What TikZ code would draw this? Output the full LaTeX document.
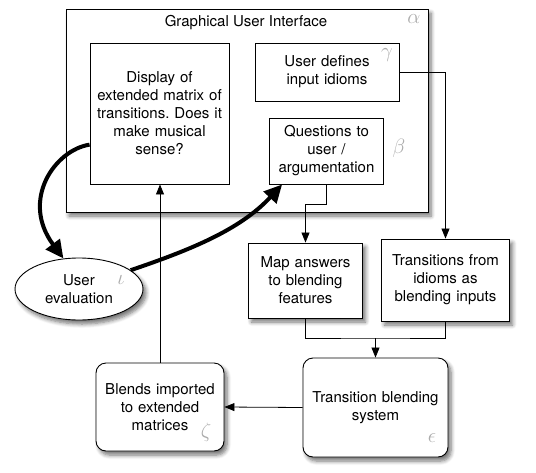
\documentclass[tikz,border=0pt]{standalone}
\usepackage{fontspec}
\setmainfont{TeX Gyre Heros}
\usetikzlibrary{arrows.meta,shapes.geometric,shadows.blur}
\begin{document}
\frenchspacing
\begin{tikzpicture}[x=1pt,y=-1pt,
  font=\fontsize{15}{18}\selectfont,
  box/.style={draw=black,line width=0.9pt,fill=white,align=center,inner sep=2pt},
  shad/.style={blur shadow={shadow xshift=3pt,shadow yshift=-4pt,shadow blur radius=4pt,shadow blur steps=6,shadow opacity=55}},
  rbox/.style={box,rounded corners=10pt},
  thin arrow/.style={line width=0.8pt,-{Triangle[length=10pt,width=8pt]}},
  thin line/.style={line width=0.8pt},
  big arrow/.style={line width=4pt,-{Triangle[length=18pt,width=17pt]}},
  greek/.style={text=gray!65,font=\fontsize{22}{22}\selectfont,inner sep=0pt}]
\useasboundingbox (0,0) rectangle (536,472);
% GUI frame
\node[box,shad,minimum width=362pt,minimum height=203pt] (gui) at (247,110.5) {};
\node[inner sep=0pt] (guit) at (246,23) {Graphical User Interface};
\node[greek] (ga) at (414,19) {$\alpha$};
% inner boxes
\node[box,minimum width=139pt,minimum height=141pt,text width=134pt] (disp) at (159.5,113.5)
  {Display of\\extended matrix of\\transitions. Does it\\make musical\\sense?};
\node[box,minimum width=144pt,minimum height=58pt,text width=136pt] (ud) at (327,72)
  {User defines\\input idioms};
\node[greek] (gg) at (387,55) {$\gamma$};
\node[box,minimum width=113pt,minimum height=66pt,text width=110pt] (q) at (326.5,151)
  {Questions to\\user /\\argumentation};
\node[greek] (gb) at (399,148) {$\beta$};
% lower boxes
\node[box,shad,minimum width=113pt,minimum height=75pt,text width=110pt] (map) at (305.5,280.5)
  {Map answers\\to blending\\features};
\node[box,shad,minimum width=127pt,minimum height=82pt,text width=124pt] (tr) at (445.5,280)
  {Transitions from\\idioms as\\blending inputs};
\node[rbox,shad,minimum width=145pt,minimum height=99pt,text width=140pt] (tbs) at (375.5,407.5)
  {Transition blending\\system};
\node[greek] (ge) at (432,438) {$\epsilon$};
\node[rbox,shad,minimum width=128pt,minimum height=88pt,text width=124pt] (bl) at (160,407)
  {Blends imported\\to extended\\matrices};
\node[greek] (gz) at (206,432) {$\zeta$};
\node[ellipse,box,shad,minimum width=128pt,minimum height=62pt,inner sep=0pt] (ue) at (79,289)
  {User\\evaluation};
\node[greek] (gi) at (121,280) {$\iota$};
% thin connectors
\draw[thin arrow] (ud.east) -| (tr.north);
\draw[thin arrow] (q.south) -- (q.south |- 0,204) -| (map.north);
\coordinate (j) at (tbs.north |- 0,338);
\draw[thin line] (map.south) |- (j) -| (tr.south);
\draw[thin arrow] (j) -- (tbs.north);
\draw[thin arrow] (tbs.west) -- (bl.east);
\draw[thin arrow] (bl.north) -- (bl.north |- disp.south);
% thick curved arrows
\draw[big arrow] (disp.204) .. controls (55,150) and (20,200) .. (ue.117);
\draw[big arrow] (ue.20) .. controls (190,250) and (240,230) .. (q.217);
\end{tikzpicture}
\end{document}
